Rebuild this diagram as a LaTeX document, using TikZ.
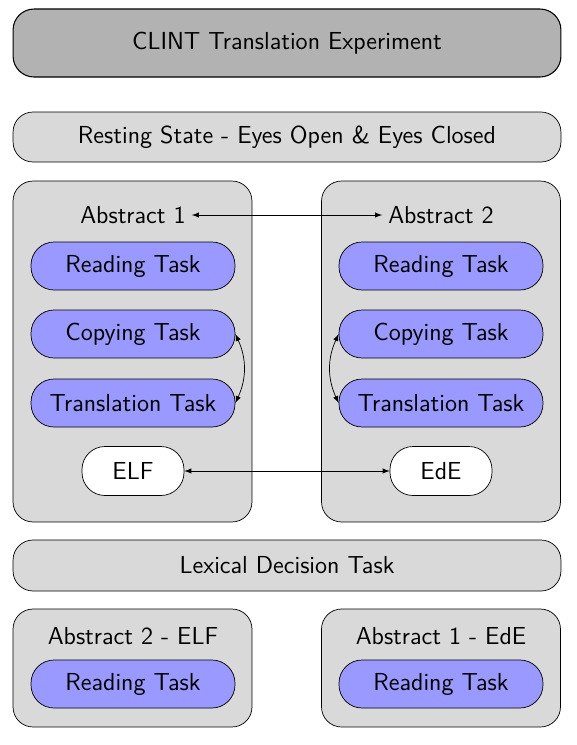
\documentclass[tikz,border=0pt]{standalone}
\usetikzlibrary{positioning,arrows}

\begin{document}
\begin{tikzpicture}[
  x=0.02cm,y=-0.02cm,
  every node/.style={font=\fontsize{14pt}{17pt}\selectfont\sffamily},
  headbox/.style={rectangle,draw,semithick,rounded corners=0.42cm,fill=black!30,minimum width=10.96cm,minimum height=1.36cm},
  bandbox/.style={rectangle,draw,rounded corners=0.4cm,fill=black!15,minimum width=10.96cm,minimum height=1.0cm},
  groupbox/.style={rectangle,draw,rounded corners=0.4cm,fill=black!15,minimum width=4.78cm,minimum height=#1},
  task/.style={rectangle,draw,rounded corners=0.46cm,fill=blue!40,minimum width=4.08cm,minimum height=0.96cm},
  langbox/.style={rectangle,draw,rounded corners=0.46cm,fill=white,minimum width=2.04cm,minimum height=0.98cm},
  link/.style={<->,>=latex},
]
\useasboundingbox (0,0) rectangle (576,745);

% === HEADER ===
\node[headbox] (title) at (287,43) {CLINT Translation Experiment};
\node[bandbox] (rest) at (287,137) {Resting State - Eyes Open \& Eyes Closed};

% === ABSTRACT GROUPS ===
\node[groupbox=6.82cm] (grpL) at (132.5,351.5) {};
\node[groupbox=6.82cm] (grpR) at (441,351.5) {};

\node (absL) at (133,215) {Abstract 1};
\node (absR) at (441,215) {Abstract 2};

\node[task] (readL)  at (133,266) {Reading Task};
\node[task] (copyL)  at (133,334) {Copying Task};
\node[task] (transL) at (133,403) {Translation Task};
\node[langbox] (elf) at (133,471) {ELF};

\node[task] (readR)  at (441,266) {Reading Task};
\node[task] (copyR)  at (441,334) {Copying Task};
\node[task] (transR) at (441,403) {Translation Task};
\node[langbox] (ede) at (441,471) {EdE};

\draw[link] (absL) -- (absR);
\draw[link] (copyL.east) to[bend left=25] (transL.east);
\draw[link] (copyR.west) to[bend right=25] (transR.west);
\draw[link] (elf) -- (ede);

% === LEXICAL DECISION ===
\node[bandbox,minimum height=1.02cm] (lex) at (287,565.5) {Lexical Decision Task};

% === FINAL READING ===
\node[groupbox=2.36cm] (finL) at (132.5,668) {};
\node[groupbox=2.36cm] (finR) at (441,668) {};

\node (finLlab) at (133,636) {Abstract 2 - ELF};
\node (finRlab) at (441,636) {Abstract 1 - EdE};

\node[task] (readLL) at (133,684) {Reading Task};
\node[task] (readRR) at (441,684) {Reading Task};

\end{tikzpicture}
\end{document}
